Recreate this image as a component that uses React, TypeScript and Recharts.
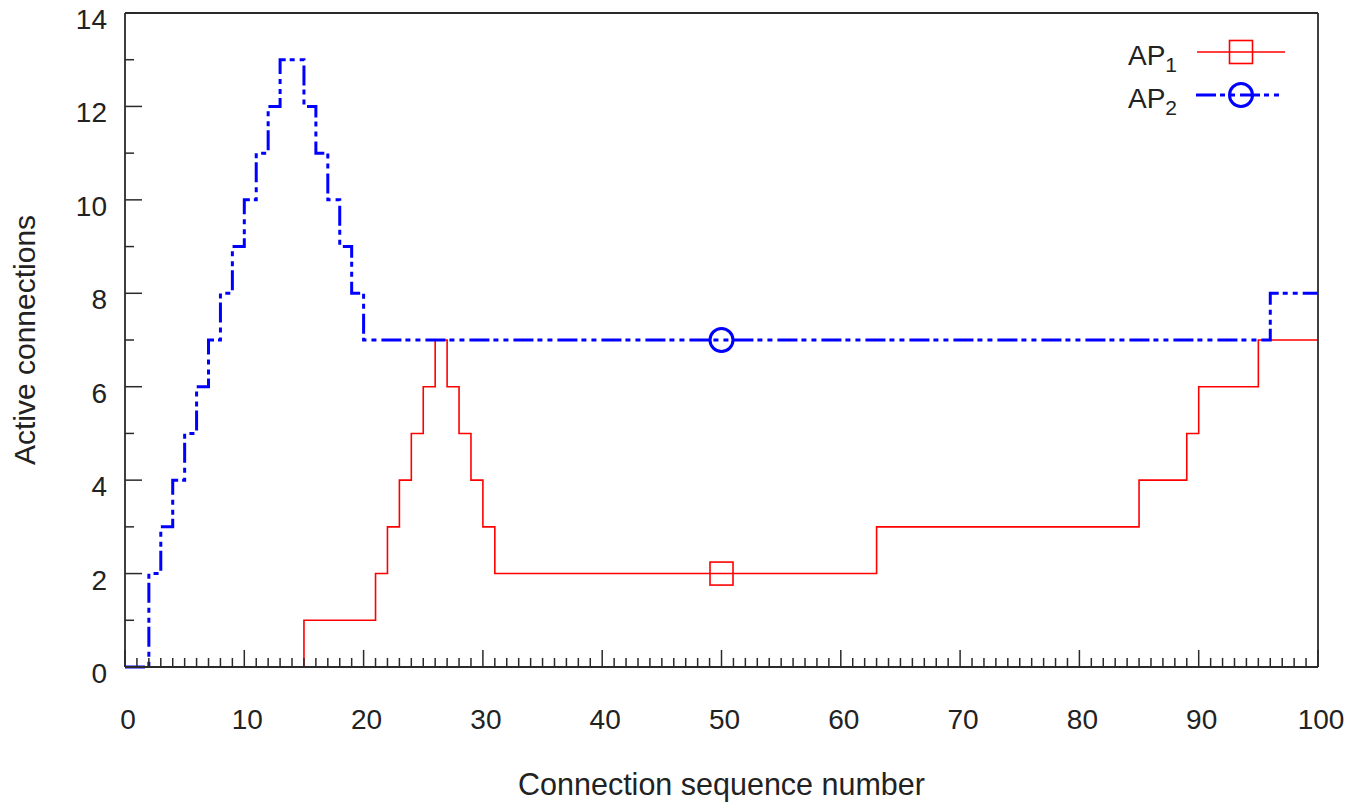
import { LineChart, Line, XAxis, YAxis } from "recharts";

// step change points (gnuplot "steps": value holds until next x)
const ap1X = [0, 15, 21, 22, 23, 24, 25, 26, 27, 28, 29, 30, 31, 50, 63, 85, 89, 90, 95, 100];
const ap1Y = [0, 1, 2, 3, 4, 5, 6, 7, 6, 5, 4, 3, 2, 2, 3, 4, 5, 6, 7, 7];

const ap2X = [0, 2, 3, 4, 5, 6, 7, 8, 9, 10, 11, 12, 13, 15, 16, 17, 18, 19, 20, 50, 96, 100];
const ap2Y = [0, 2, 3, 4, 5, 6, 7, 8, 9, 10, 11, 12, 13, 12, 11, 10, 9, 8, 7, 7, 8, 8];

const markerX = 50;

const xTicks = Array.from({ length: 101 }, (_, i) => i);
const yTicks = Array.from({ length: 15 }, (_, i) => i);

const ap1 = ap1X.map((x, i) => ({ x, y: ap1Y[i] }));
const ap2 = ap2X.map((x, i) => ({ x, y: ap2Y[i] }));

const RED = "#ff0000";
const BLUE = "#0000ff";
const AXIS = "#2a2a2a";
const TEXT = "#222";
const FONT = "'Liberation Sans', Arial, sans-serif";
const TICK_FS = 28;
const LABEL_FS = 30.5;
const DASH = "20 4 5 5 5 5";

const BottomTick = (props: any) => {
  const { x, y, payload } = props;
  const major = payload.value % 10 === 0;
  return (
    <g>
      <line x1={x} x2={x} y1={y} y2={y - (major ? 17 : 9)} stroke={AXIS} strokeWidth={1.5} />
      {major && (
        <text x={x + 3} y={y + 62} textAnchor="middle" fontSize={TICK_FS} fontFamily={FONT} fill={TEXT}>
          {payload.value}
        </text>
      )}
    </g>
  );
};

const TopTick = (props: any) => {
  const { x, y, payload } = props;
  const major = payload.value % 10 === 0;
  return <line x1={x} x2={x} y1={y} y2={y + (major ? 17 : 9)} stroke={AXIS} strokeWidth={1.5} />;
};

const LeftTick = (props: any) => {
  const { x, y, payload } = props;
  const major = payload.value % 2 === 0;
  return (
    <g>
      <line x1={x} x2={x + (major ? 17 : 9)} y1={y} y2={y} stroke={AXIS} strokeWidth={1.5} />
      {major && (
        <text x={x - 18} y={y + 16} textAnchor="end" fontSize={TICK_FS} fontFamily={FONT} fill={TEXT}>
          {payload.value}
        </text>
      )}
    </g>
  );
};

const RightTick = (props: any) => {
  const { x, y, payload } = props;
  const major = payload.value % 2 === 0;
  return <line x1={x} x2={x - (major ? 17 : 9)} y1={y} y2={y} stroke={AXIS} strokeWidth={1.5} />;
};

const SquareDot = (props: any) => {
  const { cx, cy, payload, index } = props;
  if (payload.x !== markerX) return <g key={`s${index}`} />;
  return <rect key={`s${index}`} x={cx - 11.5} y={cy - 11.5} width={23} height={23} fill="none" stroke={RED} strokeWidth={1.6} />;
};

const CircleDot = (props: any) => {
  const { cx, cy, payload, index } = props;
  if (payload.x !== markerX) return <g key={`c${index}`} />;
  return <circle key={`c${index}`} cx={cx} cy={cy} r={11.5} fill="none" stroke={BLUE} strokeWidth={3} />;
};

const YLabel = (props: any) => {
  const { viewBox } = props;
  const bx = 35;
  const cy = viewBox.y + viewBox.height / 2;
  return (
    <text x={bx} y={cy} transform={`rotate(-90 ${bx} ${cy})`} textAnchor="middle" fontSize={30} fontFamily={FONT} fill={TEXT}>
      Active connections
    </text>
  );
};

const XLabel = (props: any) => {
  const { viewBox } = props;
  const cx = viewBox.x + viewBox.width / 2;
  return (
    <text x={cx} y={795} textAnchor="middle" fontSize={LABEL_FS} fontFamily={FONT} fill={TEXT}>
      Connection sequence number
    </text>
  );
};

function LegendOverlay() {
  return (
    <svg width={1362} height={140} style={{ position: "absolute", left: 0, top: 0, pointerEvents: "none" }}>
      <g fontFamily={FONT} fontSize={TICK_FS} fill={TEXT}>
        <text x={1177} y={65} textAnchor="end">
          AP<tspan fontSize={21} dy={7}>1</tspan>
        </text>
        <text x={1177} y={108} textAnchor="end">
          AP<tspan fontSize={21} dy={7}>2</tspan>
        </text>
      </g>
      <line x1={1197} x2={1285} y1={52} y2={52} stroke={RED} strokeWidth={1.6} />
      <rect x={1229.5} y={40.5} width={23} height={23} fill="none" stroke={RED} strokeWidth={1.6} />
      <line x1={1196} x2={1282} y1={95} y2={95} stroke={BLUE} strokeWidth={3} strokeDasharray={DASH} />
      <circle cx={1241} cy={95} r={11.5} fill="none" stroke={BLUE} strokeWidth={3} />
    </svg>
  );
}

export default function App() {
  return (
    <div style={{ position: "absolute", left: 0, top: 0, width: 1362, height: 802, background: "#fff" }}>
      <LineChart width={1362} height={802} margin={{ top: 12, right: 43, bottom: 75, left: 25 }}>
        <XAxis
          xAxisId="b"
          dataKey="x"
          type="number"
          domain={[0, 100]}
          ticks={xTicks}
          interval={0}
          orientation="bottom"
          height={60}
          tickSize={0}
          tickMargin={0}
          tickLine={false}
          tick={<BottomTick />}
          axisLine={{ stroke: AXIS, strokeWidth: 1.8 }}
          allowDataOverflow
          label={<XLabel />}
        />
        <XAxis
          xAxisId="t"
          dataKey="x"
          type="number"
          domain={[0, 100]}
          ticks={xTicks}
          interval={0}
          orientation="top"
          height={1}
          tickSize={0}
          tickMargin={0}
          tickLine={false}
          tick={<TopTick />}
          axisLine={{ stroke: AXIS, strokeWidth: 1.8 }}
        />
        <YAxis
          yAxisId="l"
          type="number"
          domain={[0, 14]}
          ticks={yTicks}
          interval={0}
          orientation="left"
          width={100}
          tickSize={0}
          tickMargin={0}
          tickLine={false}
          tick={<LeftTick />}
          axisLine={{ stroke: AXIS, strokeWidth: 1.8 }}
          label={<YLabel />}
        />
        <YAxis
          yAxisId="r"
          type="number"
          domain={[0, 14]}
          ticks={yTicks}
          interval={0}
          orientation="right"
          width={1}
          tickSize={0}
          tickMargin={0}
          tickLine={false}
          tick={<RightTick />}
          axisLine={{ stroke: AXIS, strokeWidth: 1.8 }}
        />
        <Line
          data={ap1}
          xAxisId="b"
          yAxisId="l"
          dataKey="y"
          name="AP1"
          type="stepAfter"
          stroke={RED}
          strokeWidth={1.6}
          dot={<SquareDot />}
          activeDot={false}
          isAnimationActive={false}
        />
        <Line
          data={ap2}
          xAxisId="b"
          yAxisId="l"
          dataKey="y"
          name="AP2"
          type="stepAfter"
          stroke={BLUE}
          strokeWidth={3}
          strokeDasharray={DASH}
          dot={<CircleDot />}
          activeDot={false}
          isAnimationActive={false}
        />
      </LineChart>
      <LegendOverlay />
    </div>
  );
}
